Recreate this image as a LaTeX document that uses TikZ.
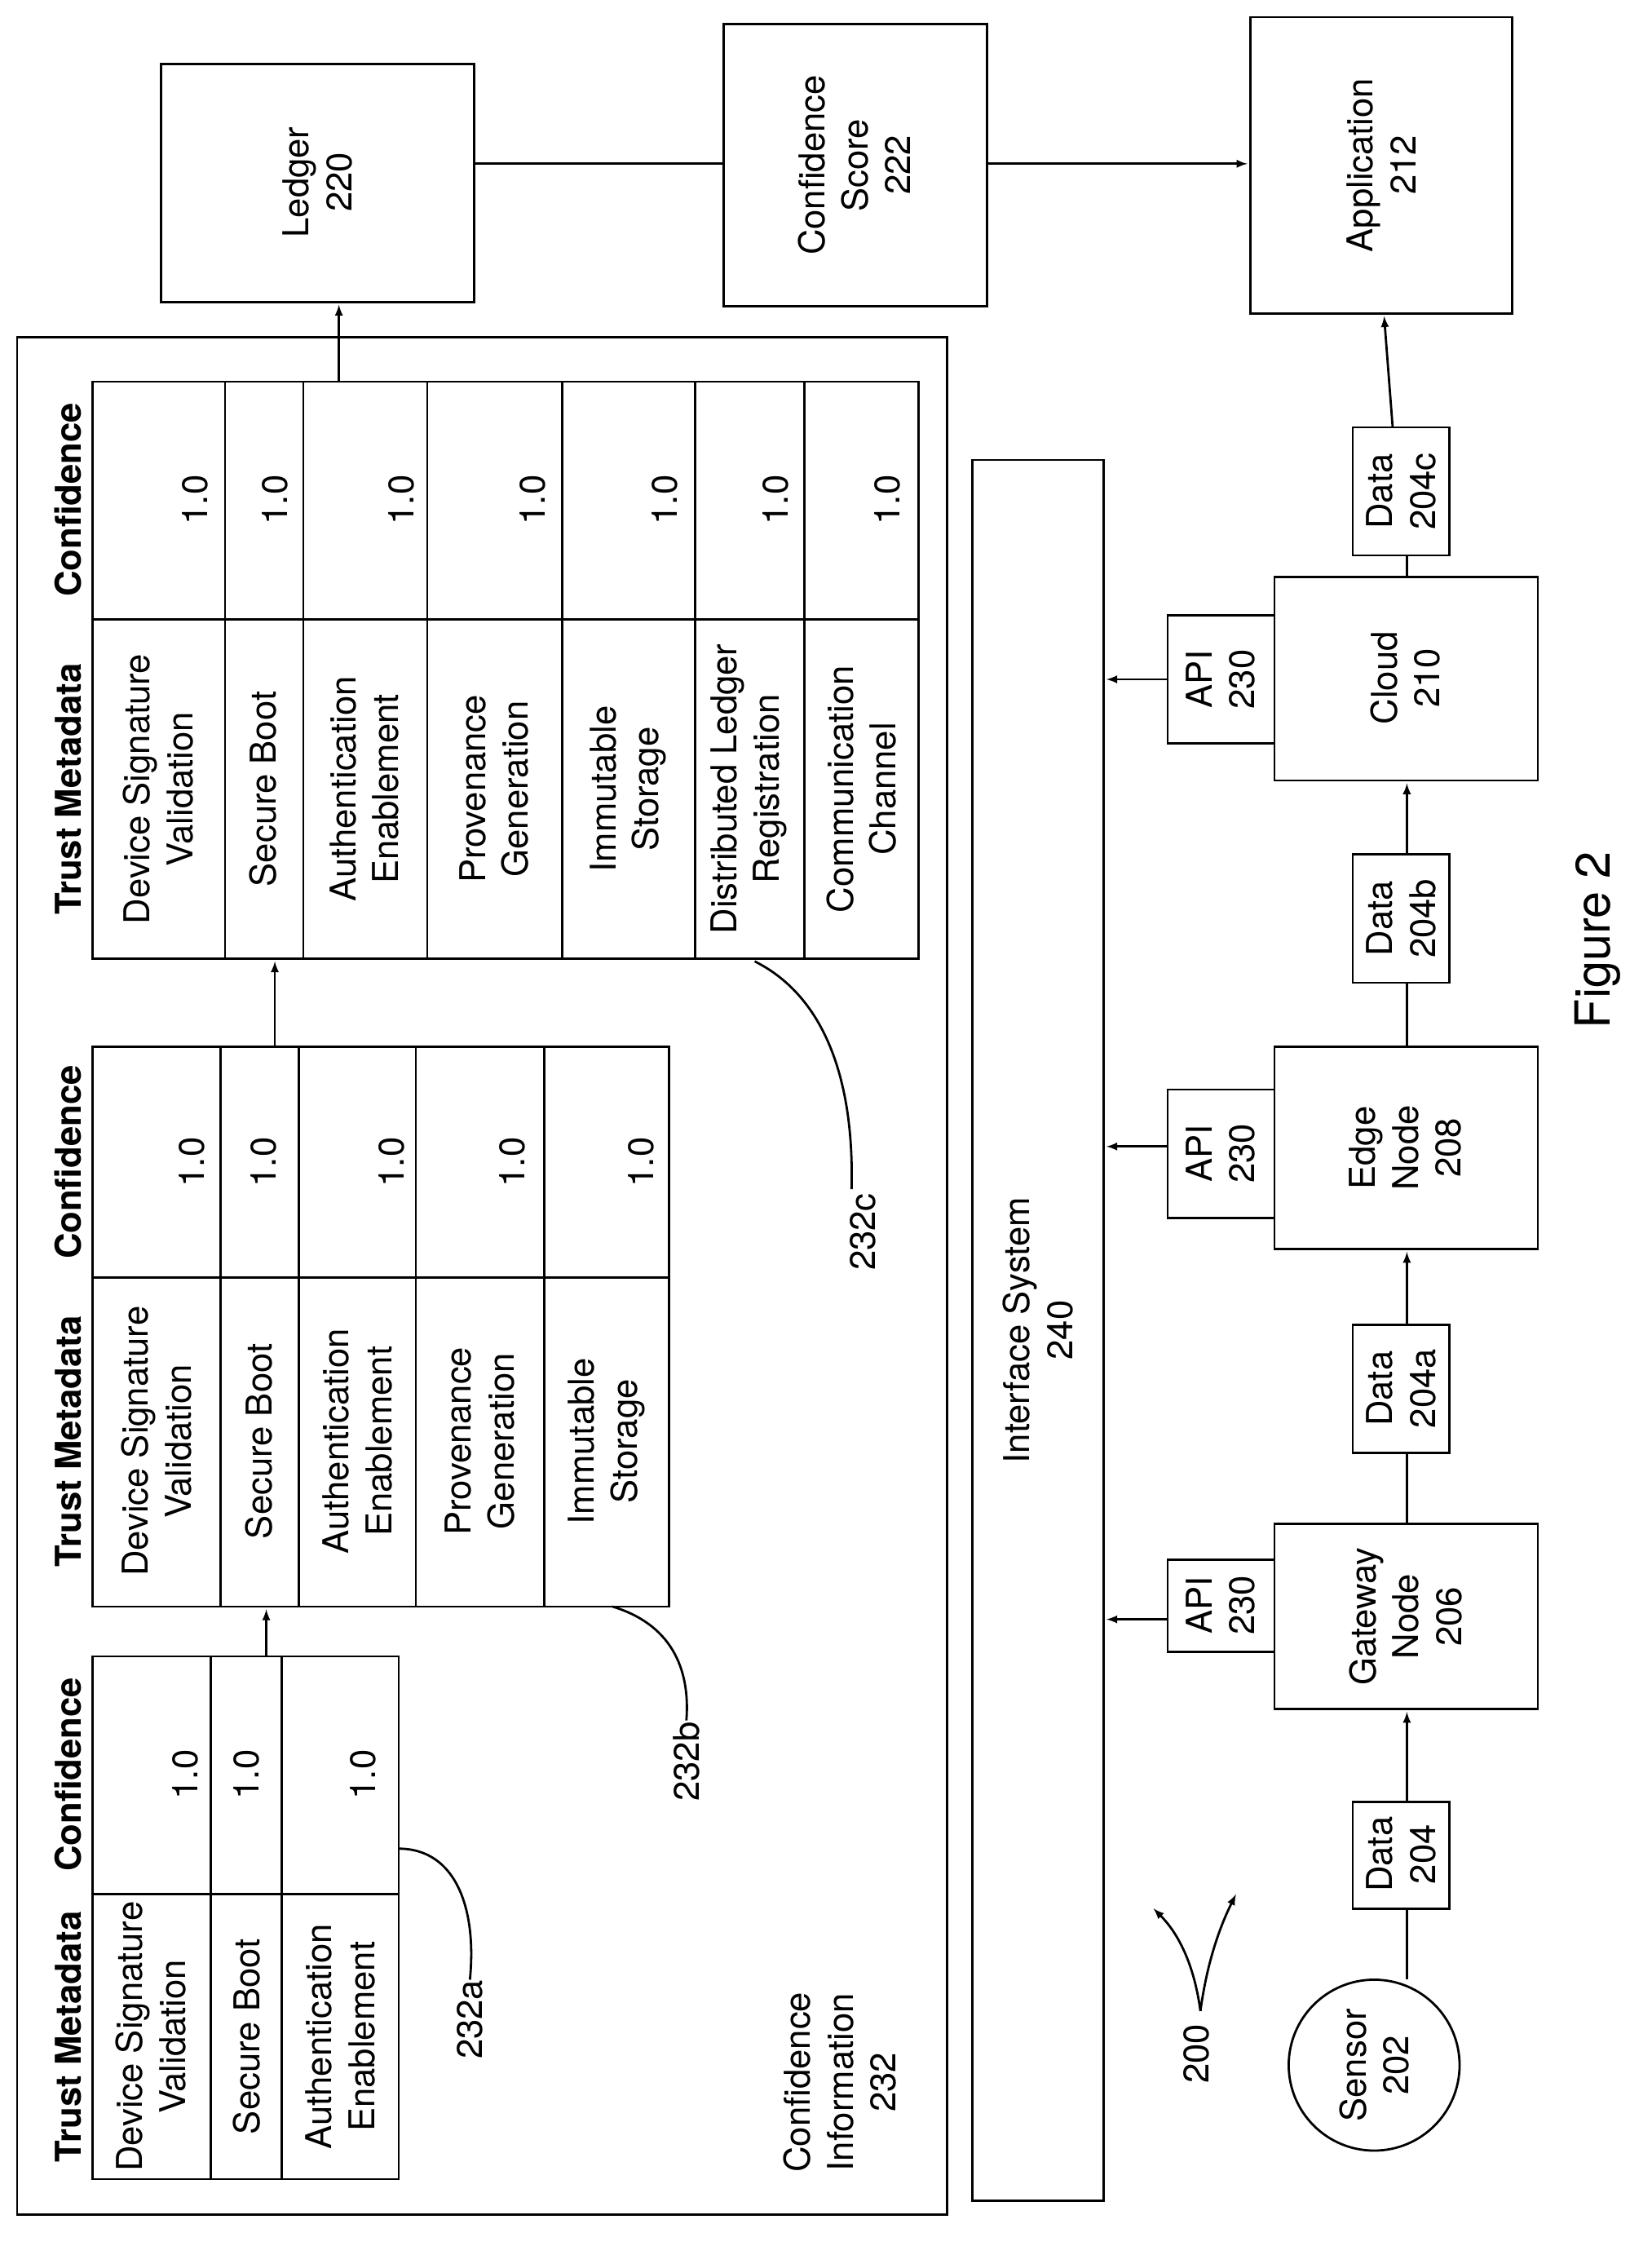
\documentclass[tikz,border=0pt]{standalone}
\usepackage{fontspec}
\setmainfont{TeX Gyre Heros}
\begin{document}
\begin{tikzpicture}[x=1pt,y=-1pt,line width=1.6pt,
 txt/.style={rotate=90,align=center,font=\fontsize{25}{30}\selectfont},
 hd/.style={rotate=90,align=center,font=\fontsize{25}{30}\selectfont\bfseries},
 arr/.style={-latex}]
\useasboundingbox (0,0) rectangle (1160,1577);
% outer
\draw (12,237) rectangle (665,1555);
% top boxes
\draw (113,45) rectangle (333,212); \node[txt] (ledger) at (223,128) {Ledger\\220};
\draw (508,17) rectangle (693,215); \node[txt] (cs) at (600,116) {Confidence\\Score\\222};
\draw (878,12) rectangle (1062,220); \node[txt] (app) at (970,116) {Application\\212};
\coordinate (l1) at (333,115); \coordinate (c1) at (508,115);
\draw (l1) -- (c1);
\coordinate (c2) at (693,115); \coordinate (a1) at (876,115);
\draw[arr] (c2) -- (a1);
% interface
\draw (683,323) rectangle (775,1545); \node[txt] (if) at (729,934) {Interface System\\240};
% sensor chain
\node[draw,circle,minimum size=120pt,txt] (sensor) at (965,1450) {Sensor\\202};
\draw (950,1265) rectangle (1018,1340); \node[txt] (d0) at (984,1302) {Data\\204};
\draw (895,1070) rectangle (1080,1200); \node[txt] (gw) at (987,1135) {Gateway\\Node\\206};
\draw (820,1095) rectangle (895,1160); \node[txt] (api1) at (857,1127) {API\\230};
\draw (950,930) rectangle (1018,1020); \node[txt] (d1) at (984,975) {Data\\204a};
\draw (895,735) rectangle (1080,877); \node[txt] (edge) at (987,806) {Edge\\Node\\208};
\draw (820,765) rectangle (895,855); \node[txt] (api2) at (857,810) {API\\230};
\draw (950,600) rectangle (1018,690); \node[txt] (d2) at (984,645) {Data\\204b};
\draw (895,405) rectangle (1080,548); \node[txt] (cloud) at (987,476) {Cloud\\210};
\draw (820,432) rectangle (895,522); \node[txt] (api3) at (857,477) {API\\230};
\draw (950,300) rectangle (1018,390); \node[txt] (d3) at (984,345) {Data\\204c};
\draw (988,1390) -- (988,1340);
\draw[arr] (988,1265) -- (988,1202);
\draw (988,1070) -- (988,1020);
\draw[arr] (988,930) -- (988,879);
\draw (988,735) -- (988,690);
\draw[arr] (988,600) -- (988,550);
\draw (988,405) -- (988,390);
\draw[arr] (978,300) -- (972,222);
\draw[arr] (820,1137) -- (777,1137);
\draw[arr] (820,805) -- (777,805);
\draw[arr] (820,477) -- (777,477);
\node[rotate=90,font=\fontsize{34}{40}\selectfont] (fig) at (1122,660) {Figure 2};
\node[txt] (n200) at (840,1442) {200};
\draw[arr] (843,1412) .. controls (838,1375) and (825,1355) .. (810,1340);
\draw[arr] (843,1412) .. controls (848,1375) and (858,1350) .. (868,1330);
% table a
\draw (65,1163) rectangle (280,1530); \draw (65,1330) -- (280,1330);
\draw (148,1163) -- (148,1530); \draw (198,1163) -- (198,1530);
\node[hd] at (48,1430) {Trust Metadata}; \node[hd] at (48,1246) {Confidence};
\node[txt] at (106,1430) {Device Signature\\Validation}; \node[txt] at (130,1246) {1.0};
\node[txt] at (173,1430) {Secure Boot}; \node[txt] at (173,1246) {1.0};
\node[txt] at (239,1430) {Authentication\\Enablement}; \node[txt] at (255,1246) {1.0};
\node[txt] at (330,1418) {232a};
\draw (280,1298) .. controls (320,1298) and (335,1340) .. (330,1390);
\draw[arr] (187,1163) -- (187,1130);
% table b
\draw (65,735) rectangle (470,1128); \draw (65,897) -- (470,897);
\foreach \r in {155,210,292,382} \draw (\r,735) -- (\r,1128);
\node[hd] at (48,1012) {Trust Metadata}; \node[hd] at (48,816) {Confidence};
\node[txt] at (110,1012) {Device Signature\\Validation}; \node[txt] at (135,816) {1.0};
\node[txt] at (182,1012) {Secure Boot}; \node[txt] at (185,816) {1.0};
\node[txt] at (251,1012) {Authentication\\Enablement}; \node[txt] at (275,816) {1.0};
\node[txt] at (337,1012) {Provenance\\Generation}; \node[txt] at (360,816) {1.0};
\node[txt] at (426,1012) {Immutable\\Storage}; \node[txt] at (450,816) {1.0};
\node[txt] at (482,1237) {232b};
\draw (430,1128) .. controls (470,1140) and (485,1170) .. (482,1208);
\draw[arr] (193,735) -- (193,675);
% table c
\draw (65,268) rectangle (645,673); \draw (65,435) -- (645,435);
\foreach \r in {158,213,300,395,488,565} \draw (\r,268) -- (\r,673);
\node[hd] at (48,554) {Trust Metadata}; \node[hd] at (48,351) {Confidence};
\node[txt] at (111,554) {Device Signature\\Validation}; \node[txt] at (137,351) {1.0};
\node[txt] at (185,554) {Secure Boot}; \node[txt] at (193,351) {1.0};
\node[txt] at (256,554) {Authentication\\Enablement}; \node[txt] at (282,351) {1.0};
\node[txt] at (347,554) {Provenance\\Generation}; \node[txt] at (374,351) {1.0};
\node[txt] at (441,554) {Immutable\\Storage}; \node[txt] at (467,351) {1.0};
\node[txt] at (526,554) {Distributed Ledger\\Registration}; \node[txt] at (545,351) {1.0};
\node[txt] at (605,554) {Communication\\Channel}; \node[txt] at (623,351) {1.0};
\node[txt] at (606,865) {232c};
\draw (530,675) .. controls (580,700) and (600,760) .. (598,835);
\draw[arr] (238,268) -- (238,214);
\node[txt] at (590,1462) {Confidence\\Information\\232};
\end{tikzpicture}
\end{document}
